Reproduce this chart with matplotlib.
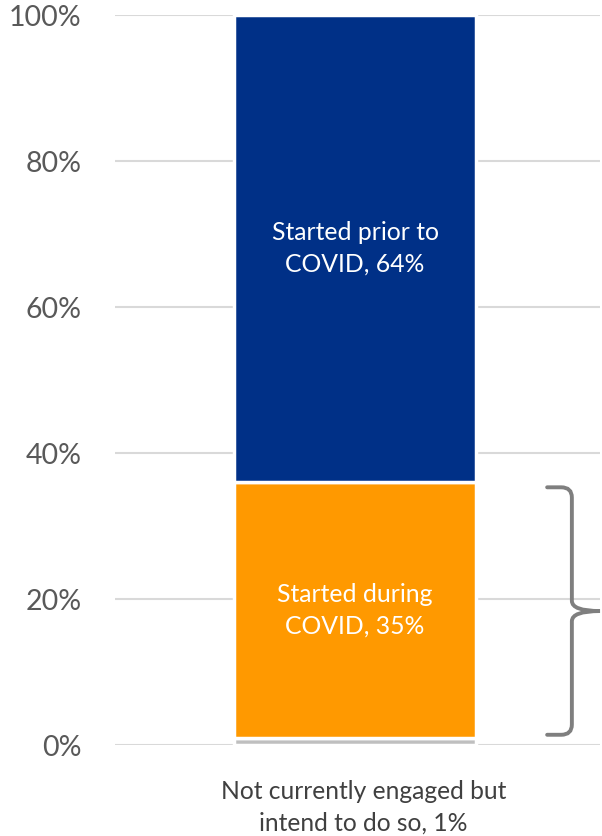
import matplotlib
matplotlib.use("Agg")
import matplotlib.pyplot as plt
from matplotlib.path import Path
from matplotlib.patches import PathPatch
import matplotlib.transforms as mtransforms

plt.rcParams["font.family"] = ["Lato", "DejaVu Sans"]

# stacked shares, bottom to top
segments = ["Not currently engaged but\nintend to do so", "Started during\nCOVID", "Started prior to\nCOVID"]
values = [1, 35, 64]
colors = ["#BFBFBF", "#FF9900", "#003087"]
yticks = [0, 20, 40, 60, 80, 100]
xlabel = "Not currently engaged but\nintend to do so, 1%"

fig = plt.figure(figsize=(6.02, 8.36), dpi=100)
W, H = 602, 836
ax = fig.add_axes([115 / W, (836 - 745) / H, 485 / W, 730 / H])
ax.set_xlim(-0.5, 0.5)
ax.set_ylim(0, 100)

for y in yticks:
    ax.axhline(y, color="#D9D9D9", lw=1.5, zorder=0)

bottom = 0
for i, (name, v, c) in enumerate(zip(segments, values, colors)):
    ax.bar(-0.005, v, width=0.5, bottom=bottom, color=c, edgecolor="white", linewidth=2.5, zorder=2)
    if i > 0:
        ax.text(-0.005, bottom + v / 2, f"{name}, {v}%", ha="center", va="center",
                color="white", fontsize=17.8, linespacing=1.45, zorder=3)
    bottom += v

ax.set_yticks(yticks)
ax.set_yticklabels([f"{t}%" for t in yticks], fontsize=20.5, color="#595959")
ax.set_xticks([0.012])
ax.set_xticklabels([xlabel], fontsize=17.7, color="#404040", linespacing=1.45)
ax.tick_params(axis="y", length=0, pad=24)
ax.tick_params(axis="x", length=0, pad=25)
for s in ax.spines.values():
    s.set_visible(False)

# curly bracket around the "during COVID" segment
trans = mtransforms.blended_transform_factory(ax.transAxes, ax.transData)
x0, x1, x2 = 0.891, 0.942, 1.0
ytop, ybot = 35.3, 1.4
ymid = (ytop + ybot) / 2
rx, ry = 0.022, 1.4
verts = [
    (x0, ytop), (x1 - rx, ytop), (x1, ytop), (x1, ytop - ry),
    (x1, ymid + ry), (x1, ymid), (x2, ymid),
    (x1, ymid), (x1, ymid - ry),
    (x1, ybot + ry), (x1, ybot), (x1 - rx, ybot), (x0, ybot),
]
codes = [
    Path.MOVETO, Path.LINETO, Path.CURVE3, Path.CURVE3,
    Path.LINETO, Path.CURVE3, Path.CURVE3,
    Path.CURVE3, Path.CURVE3,
    Path.LINETO, Path.CURVE3, Path.CURVE3, Path.LINETO,
]
ax.add_patch(PathPatch(Path(verts, codes), transform=trans, fill=False,
                       edgecolor="#7F7F7F", lw=2.8, clip_on=False, capstyle="round"))

fig.savefig("out.png", dpi=100)
